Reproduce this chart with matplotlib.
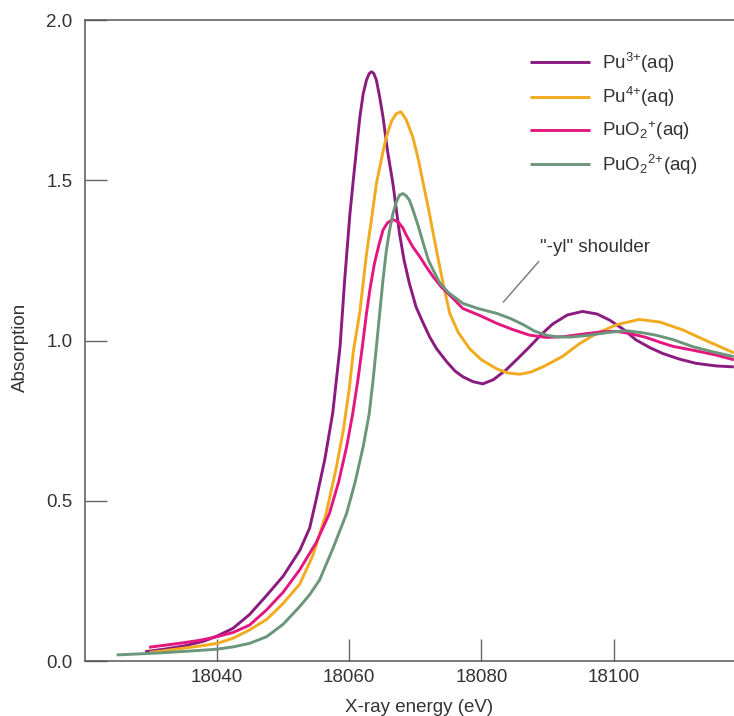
import matplotlib
matplotlib.use("Agg")

import matplotlib.pyplot as plt


# ============================================================
# DATA
# ============================================================

PU3_ENERGY = [
    18029.1, 18032.0, 18035.0, 18038.0, 18040.0, 18042.4, 18044.9,
    18047.5, 18050.0, 18052.5, 18054.0, 18055.0, 18056.3, 18057.5,
    18058.6, 18059.3, 18060.1, 18060.6, 18061.1, 18061.6, 18062.1,
    18062.6, 18063.0, 18063.35, 18063.7, 18064.1, 18064.6, 18065.1,
    18065.8, 18066.6, 18067.6, 18068.3, 18069.1, 18070.1, 18071.2,
    18072.2, 18073.2, 18074.7, 18076.0, 18077.2, 18078.7, 18080.2,
    18081.8, 18083.7, 18085.5, 18087.3, 18089.0, 18090.8, 18093.0,
    18095.3, 18097.5, 18099.4, 18101.5, 18103.4, 18105.5, 18107.4,
    18110.0, 18112.5, 18115.5, 18118.2,
]
PU3_ABS = [
    0.029, 0.037, 0.047, 0.062, 0.078, 0.102, 0.145,
    0.205, 0.265, 0.345, 0.415, 0.505, 0.630, 0.775,
    0.981, 1.189, 1.397, 1.500, 1.600, 1.698, 1.770,
    1.813, 1.833, 1.839, 1.834, 1.813, 1.760, 1.698,
    1.590, 1.490, 1.334, 1.250, 1.178, 1.105, 1.054,
    1.010, 0.975, 0.935, 0.905, 0.887, 0.872, 0.865,
    0.878, 0.908, 0.944, 0.981, 1.018, 1.052, 1.080,
    1.091, 1.083, 1.064, 1.035, 1.002, 0.978, 0.960,
    0.942, 0.929, 0.921, 0.918,
]

PU4_ENERGY = [
    18029.8, 18032.0, 18034.9, 18037.5, 18040.0, 18042.4, 18044.9,
    18047.5, 18050.0, 18052.5, 18054.5, 18056.5, 18058.0, 18059.1,
    18060.0, 18060.6, 18061.6, 18062.1, 18062.6, 18063.3, 18064.1,
    18065.0, 18065.6, 18066.4, 18067.1, 18067.8, 18068.6, 18069.6,
    18070.4, 18071.2, 18072.0, 18072.7, 18073.5, 18074.2, 18075.2,
    18076.5, 18078.2, 18080.0, 18082.3, 18084.0, 18085.8, 18087.5,
    18089.5, 18092.3, 18094.8, 18097.4, 18100.5, 18103.9, 18107.0,
    18110.5, 18114.0, 18118.2,
]
PU4_ABS = [
    0.027, 0.032, 0.040, 0.047, 0.055, 0.071, 0.097,
    0.130, 0.180, 0.240, 0.330, 0.461, 0.600, 0.721,
    0.850, 0.965, 1.090, 1.180, 1.270, 1.370, 1.490,
    1.580, 1.636, 1.685, 1.708, 1.714, 1.690, 1.636,
    1.570, 1.490, 1.410, 1.334, 1.250, 1.178, 1.085,
    1.025, 0.975, 0.940, 0.912, 0.899, 0.895, 0.902,
    0.920, 0.951, 0.990, 1.022, 1.050, 1.066, 1.058,
    1.033, 1.000, 0.962,
]

PUO2_ENERGY = [
    18029.7, 18032.0, 18034.9, 18037.5, 18040.0, 18042.4, 18044.9,
    18047.5, 18050.0, 18052.5, 18055.0, 18057.0, 18058.4, 18059.6,
    18060.5, 18061.3, 18062.0, 18062.6, 18063.2, 18063.8, 18064.5,
    18065.1, 18065.8, 18066.6, 18067.4, 18068.1, 18068.6, 18069.6,
    18070.7, 18071.6, 18072.7, 18073.9, 18075.2, 18077.2, 18079.8,
    18082.3, 18084.8, 18087.3, 18089.8, 18092.3, 18096.0, 18098.5,
    18100.4, 18102.5, 18104.9, 18107.0, 18109.0, 18112.5, 18115.5,
    18118.2,
]
PUO2_ABS = [
    0.043, 0.049, 0.057, 0.065, 0.076, 0.089, 0.112,
    0.160, 0.215, 0.285, 0.370, 0.461, 0.560, 0.669,
    0.770, 0.877, 0.985, 1.085, 1.170, 1.240, 1.300,
    1.345, 1.368, 1.378, 1.370, 1.352, 1.330, 1.293,
    1.261, 1.232, 1.199, 1.168, 1.142, 1.100, 1.078,
    1.054, 1.034, 1.017, 1.010, 1.012, 1.022, 1.028,
    1.029, 1.022, 1.010, 0.995, 0.982, 0.968, 0.955,
    0.940,
]

PUO22_ENERGY = [
    18024.8, 18028.0, 18031.0, 18035.0, 18038.0, 18040.0, 18042.4,
    18044.9, 18047.5, 18050.0, 18052.5, 18054.0, 18055.5, 18057.5,
    18059.6, 18060.9, 18062.1, 18063.0, 18063.6, 18064.1, 18064.6,
    18065.1, 18065.6, 18066.1, 18066.6, 18067.1, 18067.6, 18068.1,
    18068.6, 18069.1, 18069.6, 18070.4, 18071.2, 18072.0, 18072.7,
    18073.7, 18075.0, 18077.2, 18079.5, 18082.3, 18084.5, 18086.3,
    18088.0, 18089.8, 18091.3, 18093.5, 18096.4, 18099.0, 18101.9,
    18104.5, 18106.4, 18109.0, 18112.0, 18115.0, 18118.2,
]
PUO22_ABS = [
    0.019, 0.022, 0.025, 0.030, 0.034, 0.037, 0.044,
    0.055, 0.076, 0.115, 0.170, 0.207, 0.253, 0.350,
    0.461, 0.560, 0.669, 0.770, 0.877, 0.980, 1.085,
    1.190, 1.280, 1.345, 1.396, 1.432, 1.454, 1.459,
    1.452, 1.438, 1.410, 1.360, 1.303, 1.250, 1.220,
    1.180, 1.150, 1.116, 1.100, 1.085, 1.068, 1.050,
    1.030, 1.017, 1.012, 1.011, 1.017, 1.025, 1.031,
    1.024, 1.017, 1.003, 0.981, 0.965, 0.950,
]

SERIES_LABELS = [
    r"Pu$^{3{+}}$(aq)",
    r"Pu$^{4{+}}$(aq)",
    r"PuO$_2$$^{{+}}$(aq)",
    r"PuO$_2$$^{2{+}}$(aq)",
]

X_TICKS = [18040, 18060, 18080, 18100]
Y_TICKS = [0.0, 0.5, 1.0, 1.5, 2.0]

SHOULDER_POINT = (18083.3, 1.12)
SHOULDER_TEXT_POS = (18088.8, 1.292)


# ============================================================
# STYLE
# ============================================================

COLORS = ["#8B1C7F", "#F2AA1F", "#E3177F", "#6B967A"]
AXIS_COLOR = "#555555"
TEXT_COLOR = "#333333"
FONT_SIZE = 13.5

plt.rcParams["font.family"] = ["Liberation Sans", "DejaVu Sans"]
plt.rcParams["mathtext.fontset"] = "custom"
plt.rcParams["mathtext.rm"] = "Liberation Sans"
plt.rcParams["mathtext.it"] = "Liberation Sans"
plt.rcParams["mathtext.bf"] = "Liberation Sans:bold"
plt.rcParams["mathtext.default"] = "regular"


# ============================================================
# PLOT
# ============================================================

fig = plt.figure(figsize=(7.34, 7.16), dpi=100)
ax = fig.add_axes([0.1158, 0.0768, 0.884, 0.895])

series = [
    (PU3_ENERGY, PU3_ABS),
    (PU4_ENERGY, PU4_ABS),
    (PUO2_ENERGY, PUO2_ABS),
    (PUO22_ENERGY, PUO22_ABS),
]

for (energy, absorption), color, label in zip(
    series, COLORS, SERIES_LABELS
):
    ax.plot(
        energy,
        absorption,
        color=color,
        linewidth=2.1,
        label=label,
        solid_joinstyle="round",
        solid_capstyle="butt",
    )

ax.set_xlim(18020, 18118.2)
ax.set_ylim(0.0, 2.0)

ax.set_xticks(X_TICKS)
ax.set_yticks(Y_TICKS)
ax.set_yticklabels([f"{v:.1f}" for v in Y_TICKS])

ax.tick_params(
    axis="both",
    direction="in",
    length=16,
    width=1.0,
    color="#666666",
    labelsize=FONT_SIZE,
    labelcolor=TEXT_COLOR,
)
ax.tick_params(axis="x", pad=6)
ax.tick_params(axis="y", pad=9)

for side in ["left", "bottom", "top"]:
    ax.spines[side].set_color(AXIS_COLOR)
    ax.spines[side].set_linewidth(1.1)
ax.spines["right"].set_visible(False)

ax.set_xlabel("X-ray energy (eV)", fontsize=FONT_SIZE, color=TEXT_COLOR)
ax.set_ylabel("Absorption", fontsize=FONT_SIZE, color=TEXT_COLOR)
ax.xaxis.set_label_coords(0.515, -0.060)
ax.yaxis.set_label_coords(-0.087, 0.49)

ax.annotate(
    '"-yl" shoulder',
    xy=SHOULDER_POINT,
    xytext=SHOULDER_TEXT_POS,
    fontsize=FONT_SIZE,
    color=TEXT_COLOR,
    ha="left",
    va="center",
    arrowprops=dict(
        arrowstyle="-",
        color="#777777",
        linewidth=1.0,
        relpos=(0.04, 0.0),
        shrinkA=3,
        shrinkB=0,
    ),
)

ax.legend(
    loc="upper left",
    bbox_to_anchor=(0.672, 0.967),
    frameon=False,
    fontsize=FONT_SIZE,
    handlelength=3.2,
    handletextpad=0.64,
    labelspacing=0.55,
    borderpad=0.0,
    labelcolor=TEXT_COLOR,
)

fig.savefig("out.png", dpi=100)
